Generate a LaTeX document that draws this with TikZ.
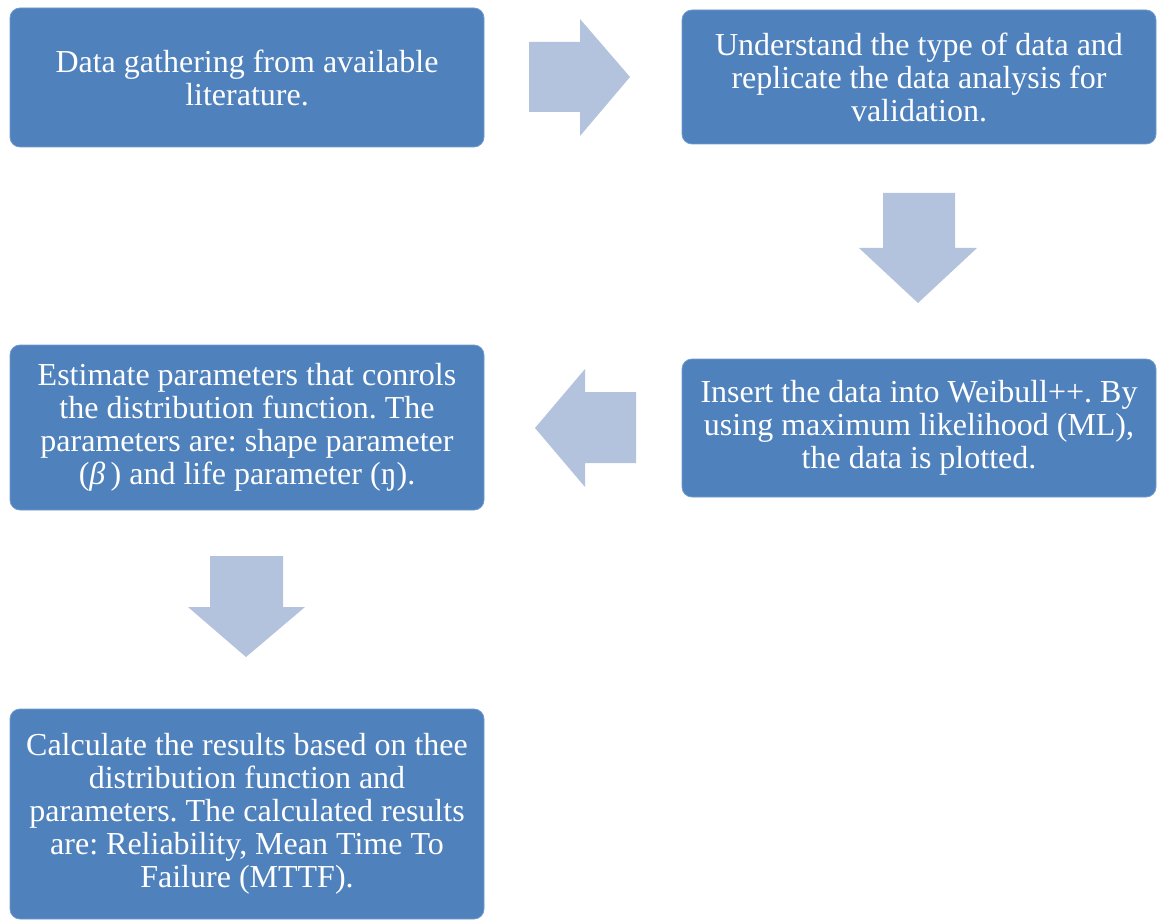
\documentclass[tikz,border=0pt]{standalone}
\usepackage{fontspec}
\setmainfont{Liberation Serif}
\frenchspacing
\definecolor{boxblue}{HTML}{4F81BD}
\definecolor{arrowblue}{HTML}{B3C2DD}
\begin{document}
\begin{tikzpicture}[x=0.75pt,y=-0.75pt,
  stepbox/.style={fill=boxblue,draw=boxblue!80!white,line width=0.6pt,rounded corners=7.5pt,
    text=white,align=center,font=\fontsize{24}{24.75}\selectfont,inner sep=0pt},
  blockarrow/.style={fill=arrowblue,draw=none}]
\useasboundingbox (0,0) rectangle (1157,920);
% process boxes
\node[stepbox,minimum width=474*0.75pt,minimum height=139*0.75pt] (b1) at (247,77.5)
  {Data gathering from available\\literature.};
\node[stepbox,minimum width=474*0.75pt,minimum height=134*0.75pt] (b2) at (919,77)
  {Understand the type of data and\\replicate the data analysis for\\validation.};
\node[stepbox,minimum width=474*0.75pt,minimum height=138*0.75pt] (b3) at (919,428)
  {Insert the data into Weibull++. By\\using maximum likelihood (ML),\\the data is plotted.};
\node[stepbox,minimum width=474*0.75pt,minimum height=165*0.75pt] (b4) at (247,427.5)
  {Estimate parameters that conrols\\the distribution function. The\\parameters are: shape parameter\\(\textit{β}\,) and life parameter (ŋ).};
\node[stepbox,minimum width=474*0.75pt,minimum height=210*0.75pt] (b5) at (247,814)
  {Calculate the results based on thee\\distribution function and\\parameters. The calculated results\\are: Reliability, Mean Time To\\Failure (MTTF).};
% block arrows between the steps
\fill[blockarrow] (529,42) -- (580,42) -- (580,19) -- (630,77) -- (580,136) -- (580,112) -- (529,112) -- cycle;
\fill[blockarrow] (883,193) -- (955,193) -- (955,248) -- (977,248) -- (918,303) -- (859,248) -- (883,248) -- cycle;
\fill[blockarrow] (636,392) -- (636,463) -- (585,463) -- (585,487) -- (535,428) -- (585,369) -- (585,392) -- cycle;
\fill[blockarrow] (210,556) -- (283,556) -- (283,607) -- (305,607) -- (246,657) -- (188,607) -- (210,607) -- cycle;
\end{tikzpicture}
\end{document}
